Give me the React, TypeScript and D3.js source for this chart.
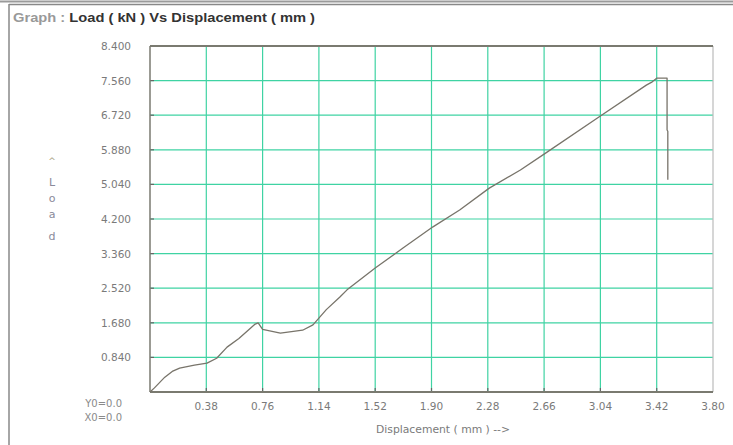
import React, { useEffect, useRef } from 'react';
import * as d3 from 'd3';

// displacement (mm) vs load (kN)
const dispValues = [0, 0.03, 0.1, 0.15, 0.2, 0.3, 0.385, 0.45, 0.52, 0.6, 0.71, 0.73, 0.76, 0.88, 1.03, 1.1, 1.19, 1.28, 1.33, 1.52, 1.71, 1.91, 2.09, 2.29, 2.5, 2.67, 3.02, 3.35, 3.39, 3.42, 3.49, 3.49, 3.495, 3.495];
const loadValues = [0, 0.1, 0.36, 0.5, 0.58, 0.65, 0.7, 0.82, 1.09, 1.3, 1.65, 1.68, 1.52, 1.43, 1.5, 1.63, 2.0, 2.3, 2.48, 3.01, 3.5, 4.01, 4.42, 4.95, 5.39, 5.8, 6.65, 7.45, 7.53, 7.62, 7.62, 6.36, 6.33, 5.15];

const xTicks = [0.38, 0.76, 1.14, 1.52, 1.9, 2.28, 2.66, 3.04, 3.42, 3.8];
const yTicks = [0.84, 1.68, 2.52, 3.36, 4.2, 5.04, 5.88, 6.72, 7.56, 8.4];
const loadLetters = ['^', 'L', 'o', 'a', 'd'];

const W = 733;
const H = 445;

export default function App() {
  const svgRef = useRef<SVGSVGElement>(null);

  useEffect(() => {
    if (!svgRef.current) return;
    const svg = d3.select(svgRef.current);
    svg.selectAll('*').remove();

    const left = 150, right = 713, top = 46, bottom = 392;
    const x = d3.scaleLinear().domain([0, 3.8]).range([left, right]);
    const y = d3.scaleLinear().domain([0, 8.4]).range([bottom, top]);
    const font = 'DejaVu Sans, Verdana, sans-serif';
    const grid = '#3fd3a3';

    svg.append('rect').attr('width', W).attr('height', H).attr('fill', '#fff');

    // outer window frame
    svg.append('line').attr('x1', 0).attr('x2', W).attr('y1', 1.5).attr('y2', 1.5)
      .attr('stroke', '#9a9a9a').attr('stroke-width', 2);
    svg.append('line').attr('x1', 9).attr('x2', W).attr('y1', 4.5).attr('y2', 4.5)
      .attr('stroke', '#888').attr('stroke-width', 1.5);
    svg.append('line').attr('x1', 9).attr('x2', 9).attr('y1', 4).attr('y2', H)
      .attr('stroke', '#888').attr('stroke-width', 1.5);

    // title
    const title = svg.append('text').attr('x', 13).attr('y', 22)
      .attr('textLength', 302).attr('lengthAdjust', 'spacingAndGlyphs')
      .style('font-family', 'Liberation Sans, Arial, sans-serif').style('font-size', '12px').style('font-weight', 'bold');
    title.append('tspan').attr('fill', '#999').text('Graph : ');
    title.append('tspan').attr('fill', '#333').text('Load ( kN ) Vs Displacement ( mm )');

    // grid
    svg.append('g').selectAll('line').data(xTicks.slice(0, -1)).enter().append('line')
      .attr('x1', (d) => x(d)).attr('x2', (d) => x(d))
      .attr('y1', top).attr('y2', bottom)
      .attr('stroke', grid).attr('stroke-width', 1.2);
    svg.append('g').selectAll('line').data(yTicks.slice(0, -1)).enter().append('line')
      .attr('x1', left).attr('x2', right)
      .attr('y1', (d) => y(d)).attr('y2', (d) => y(d))
      .attr('stroke', grid).attr('stroke-width', 1.2);

    // small ticks on axes
    svg.append('g').selectAll('line').data(yTicks.slice(0, -1)).enter().append('line')
      .attr('x1', left).attr('x2', left + 4)
      .attr('y1', (d) => y(d)).attr('y2', (d) => y(d))
      .attr('stroke', '#666').attr('stroke-width', 1.2);
    svg.append('g').selectAll('line').data(xTicks.slice(0, -1)).enter().append('line')
      .attr('x1', (d) => x(d)).attr('x2', (d) => x(d))
      .attr('y1', bottom).attr('y2', bottom - 4)
      .attr('stroke', '#666').attr('stroke-width', 1.2);

    // plot frame
    svg.append('line').attr('x1', right).attr('x2', right).attr('y1', top).attr('y2', bottom)
      .attr('stroke', '#bbb').attr('stroke-width', 1.2);
    svg.append('line').attr('x1', left).attr('x2', right).attr('y1', top).attr('y2', top)
      .attr('stroke', '#7a7a70').attr('stroke-width', 2);
    svg.append('line').attr('x1', left).attr('x2', right).attr('y1', bottom).attr('y2', bottom)
      .attr('stroke', '#7a7a70').attr('stroke-width', 2);
    svg.append('line').attr('x1', left).attr('x2', left).attr('y1', top).attr('y2', bottom)
      .attr('stroke', '#7a7a70').attr('stroke-width', 1.5);

    // curve
    const pts: [number, number][] = dispValues.map((d, i) => [d, loadValues[i]]);
    const line = d3.line<[number, number]>().x((d) => x(d[0])).y((d) => y(d[1]));
    svg.append('path').attr('d', line(pts))
      .attr('fill', 'none').attr('stroke', '#78746a').attr('stroke-width', 1.3)
      .attr('stroke-linejoin', 'round');

    // tick labels
    svg.append('g').selectAll('text').data(yTicks).enter().append('text')
      .attr('x', 131).attr('y', (d) => y(d) + 4)
      .attr('text-anchor', 'end').attr('fill', '#7a7a7a')
      .style('font-family', font).style('font-size', '10.5px')
      .text((d) => d.toFixed(3));
    svg.append('g').selectAll('text').data(xTicks).enter().append('text')
      .attr('x', (d) => x(d)).attr('y', 410)
      .attr('text-anchor', 'middle').attr('fill', '#7a7a7a')
      .style('font-family', font).style('font-size', '10.5px')
      .text((d) => d.toFixed(2));

    svg.append('text').attr('x', 122).attr('y', 407).attr('text-anchor', 'end').attr('fill', '#8a8a8a')
      .style('font-family', font).style('font-size', '10px').text('Y0=0.0');
    svg.append('text').attr('x', 122).attr('y', 421).attr('text-anchor', 'end').attr('fill', '#8a8a8a')
      .style('font-family', font).style('font-size', '10px').text('X0=0.0');

    svg.append('text').attr('x', 376).attr('y', 433).attr('fill', '#7a7a7a')
      .attr('textLength', 134).attr('lengthAdjust', 'spacingAndGlyphs')
      .style('font-family', font).style('font-size', '10px').text('Displacement  ( mm )   -->');

    const letterY = [164, 186, 202, 218, 240];
    svg.append('g').selectAll('text').data(loadLetters).enter().append('text')
      .attr('x', 52).attr('y', (d, i) => letterY[i]).attr('text-anchor', 'middle')
      .attr('fill', (d, i) => (i === 0 ? '#a8a080' : '#8a8a9a'))
      .style('font-family', font).style('font-size', (d, i) => (i === 0 ? '9px' : '11px'))
      .text((d) => d);
  }, []);

  return (
    <div style={{ position: 'absolute', left: 0, top: 0 }}>
      <svg ref={svgRef} width={W} height={H}></svg>
    </div>
  );
}
